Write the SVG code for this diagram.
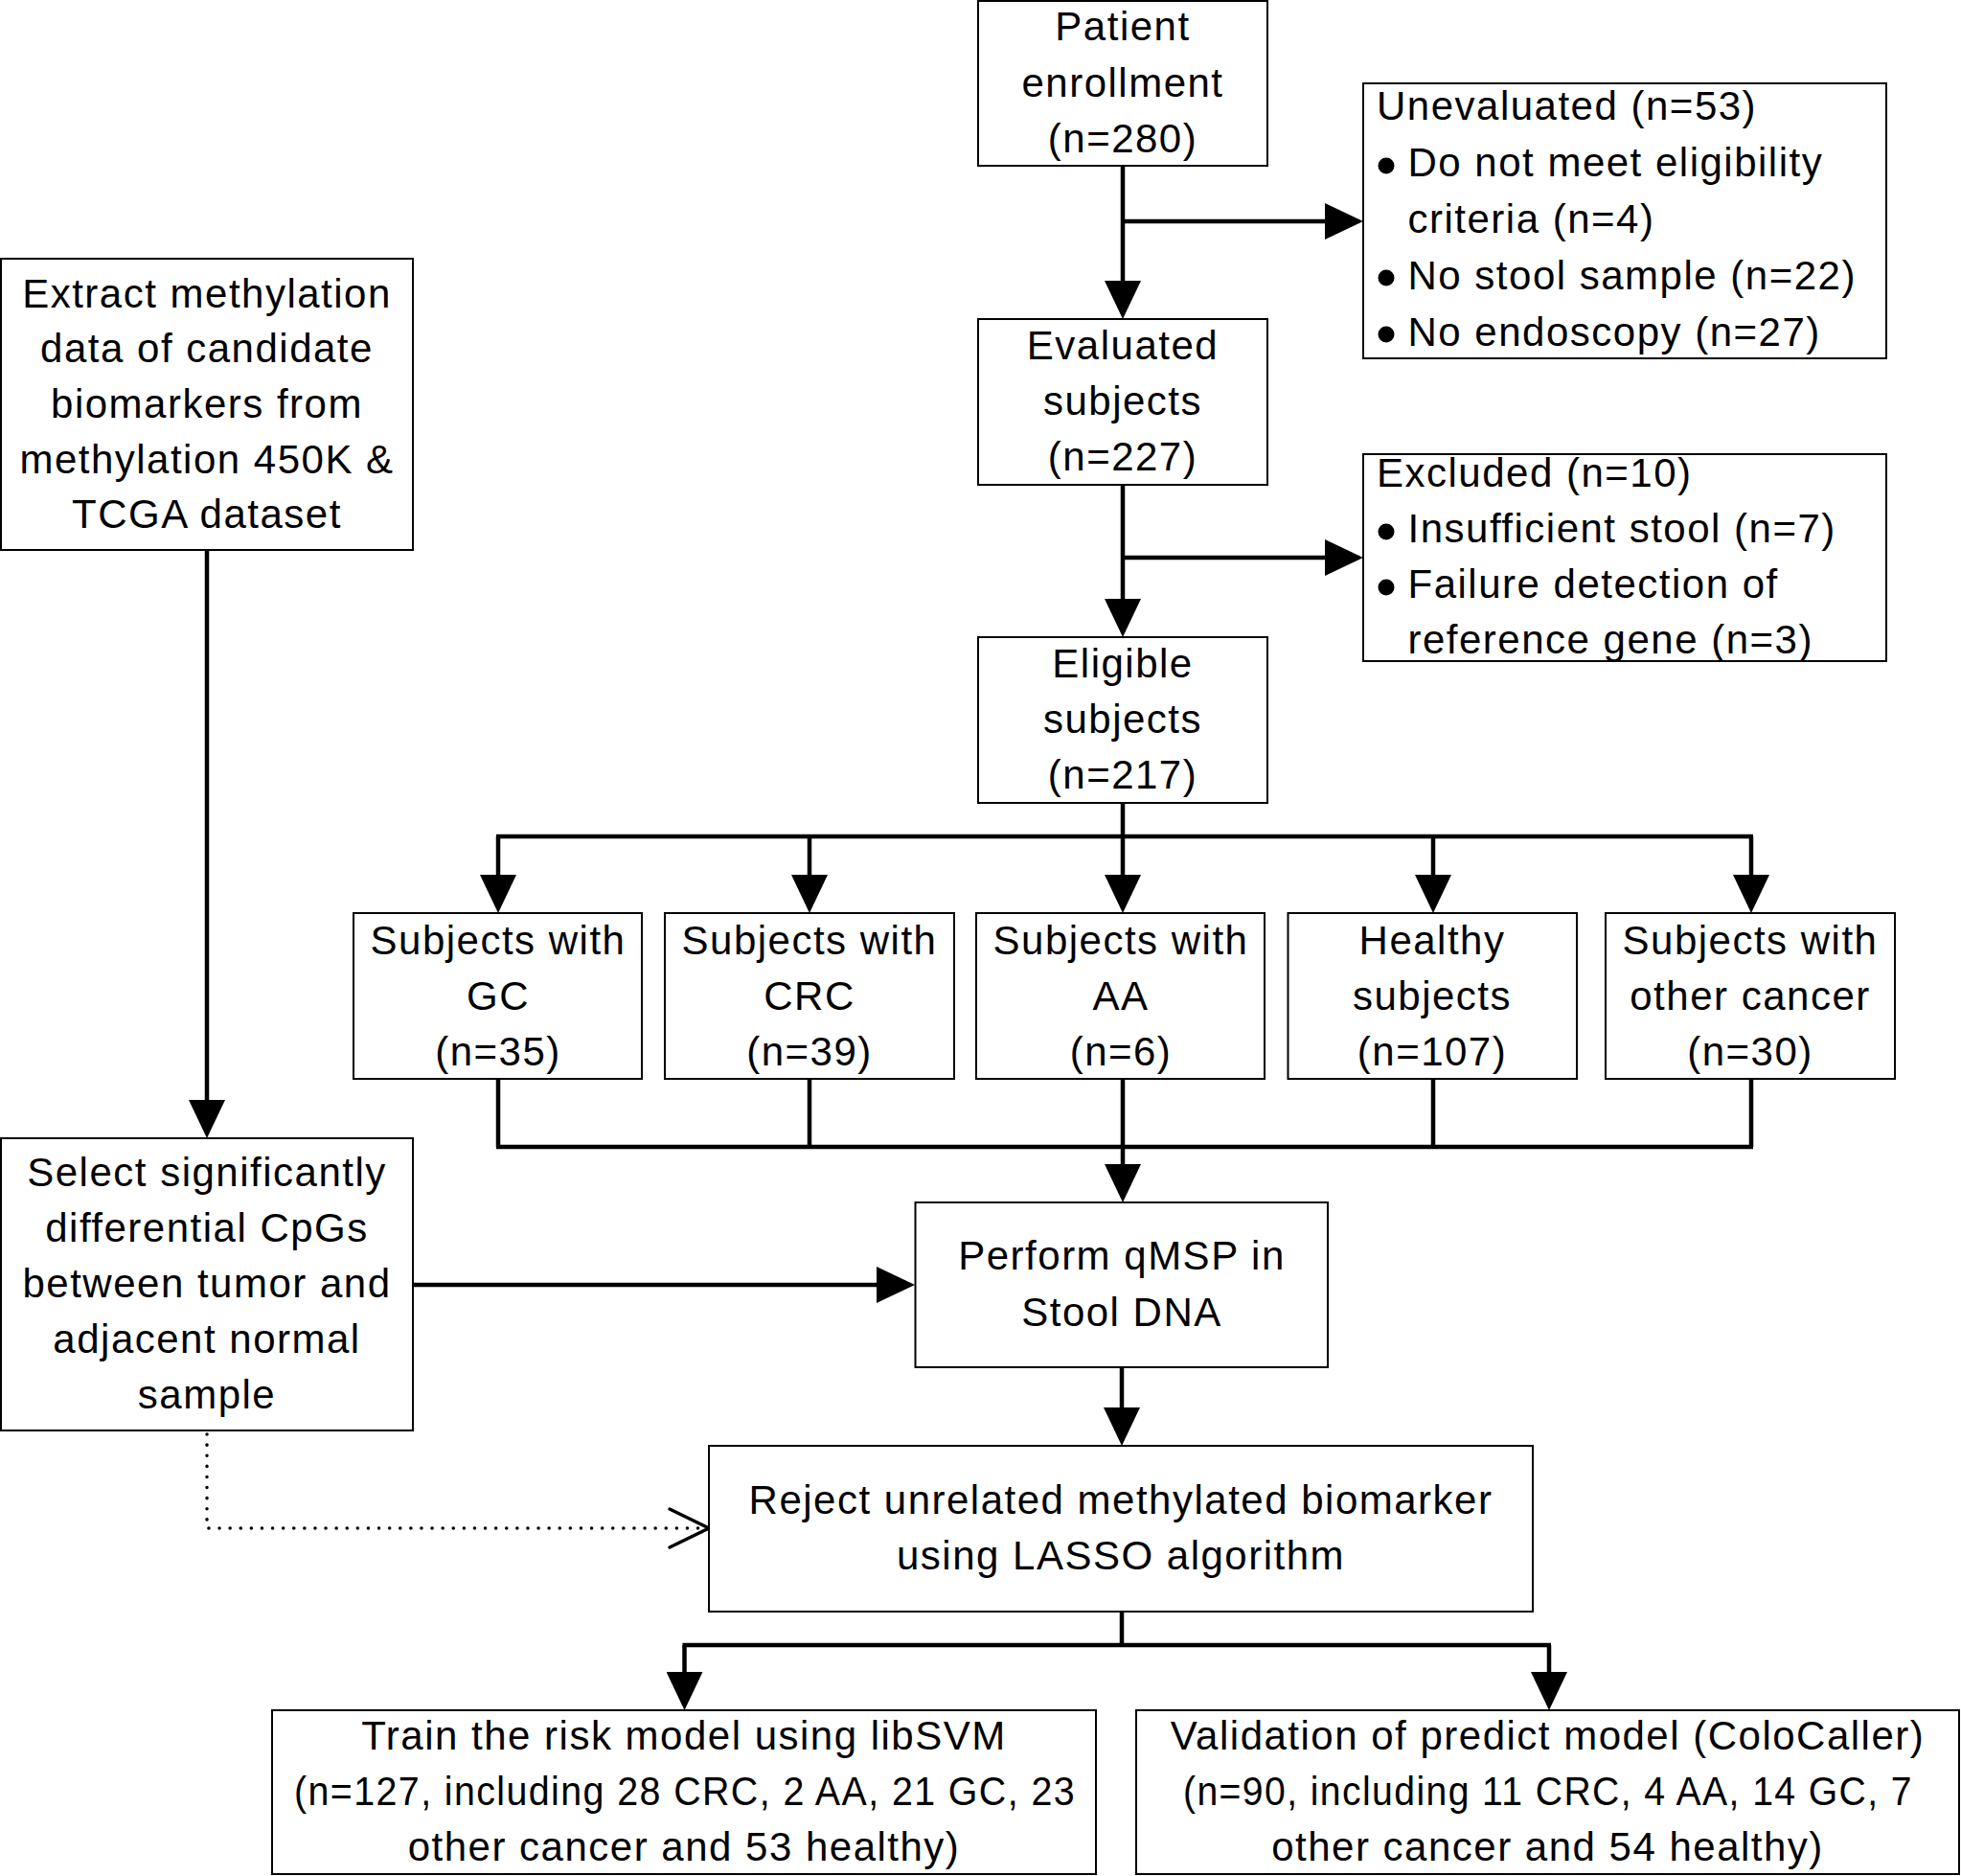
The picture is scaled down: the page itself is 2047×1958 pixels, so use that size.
<svg xmlns="http://www.w3.org/2000/svg" width="2047" height="1958" viewBox="0 0 2047 1958">
<style>
.box{fill:#fff;stroke:#000;stroke-width:2}
.t{font-family:"Liberation Sans",Arial,sans-serif;font-size:42px;letter-spacing:1.5px;fill:#000}
.c{text-anchor:middle}
.ln{stroke:#000;stroke-width:4.5;fill:none}
.dot{stroke:#000;stroke-width:3.5;fill:none;stroke-dasharray:0.1 11;stroke-linecap:round}
</style>
<defs>
<marker id="arr" markerUnits="userSpaceOnUse" markerWidth="40" markerHeight="38" refX="20" refY="19" orient="auto">
<path d="M0,0 L40,19 L0,38 z" fill="#000"/>
</marker>
</defs>
<rect width="2047" height="1958" fill="#fff"/>

<g id="connectors">
<line class="ln" x1="1172" y1="173" x2="1172" y2="313" marker-end="url(#arr)"/>
<line class="ln" x1="1172" y1="231" x2="1403" y2="231" marker-end="url(#arr)"/>
<line class="ln" x1="1172" y1="506" x2="1172" y2="645" marker-end="url(#arr)"/>
<line class="ln" x1="1172" y1="582" x2="1403" y2="582" marker-end="url(#arr)"/>
<line class="ln" x1="1172" y1="838" x2="1172" y2="873"/>
<line class="ln" x1="518" y1="873" x2="1830" y2="873"/>
<line class="ln" x1="520" y1="873" x2="520" y2="933" marker-end="url(#arr)"/>
<line class="ln" x1="845" y1="873" x2="845" y2="933" marker-end="url(#arr)"/>
<line class="ln" x1="1172" y1="873" x2="1172" y2="933" marker-end="url(#arr)"/>
<line class="ln" x1="1496" y1="873" x2="1496" y2="933" marker-end="url(#arr)"/>
<line class="ln" x1="1828" y1="873" x2="1828" y2="933" marker-end="url(#arr)"/>
<path class="ln" d="M520,1126 V1197 M845,1126 V1197 M1172,1126 V1197 M1496,1126 V1197 M1828,1126 V1197 M518,1197 H1830"/>
<line class="ln" x1="1172" y1="1197" x2="1172" y2="1235" marker-end="url(#arr)"/>
<line class="ln" x1="216" y1="574" x2="216" y2="1168" marker-end="url(#arr)"/>
<line class="ln" x1="431" y1="1341" x2="935" y2="1341" marker-end="url(#arr)"/>
<line class="ln" x1="1171" y1="1427" x2="1171" y2="1489" marker-end="url(#arr)"/>
<line class="ln" x1="1171" y1="1682" x2="1171" y2="1717"/>
<line class="ln" x1="712.5" y1="1717" x2="1619" y2="1717"/>
<line class="ln" x1="714.5" y1="1717" x2="714.5" y2="1765" marker-end="url(#arr)"/>
<line class="ln" x1="1617" y1="1717" x2="1617" y2="1765" marker-end="url(#arr)"/>
<path class="dot" d="M216,1497 V1595 H736"/>
<polyline points="699,1575 740,1595 699,1615" fill="none" stroke="#000" stroke-width="3.5" stroke-linecap="round" stroke-linejoin="miter"/>
</g>

<g id="patient">
<rect class="box" x="1021" y="1" width="302" height="172"/>
<text class="t c" x="1172" y="42">Patient</text>
<text class="t c" x="1172" y="101">enrollment</text>
<text class="t c" x="1172" y="159">(n=280)</text>
</g>

<g id="unevaluated">
<rect class="box" x="1423" y="87" width="546" height="287"/>
<text class="t" x="1437" y="125">Unevaluated (n=53)</text>
<circle cx="1447" cy="173" r="8.5"/>
<text class="t" x="1469.5" y="184">Do not meet eligibility</text>
<text class="t" x="1469.5" y="243">criteria (n=4)</text>
<circle cx="1447" cy="290" r="8.5"/>
<text class="t" x="1469.5" y="302">No stool sample (n=22)</text>
<circle cx="1447" cy="349" r="8.5"/>
<text class="t" x="1469.5" y="361">No endoscopy (n=27)</text>
</g>

<g id="evaluated">
<rect class="box" x="1021" y="333" width="302" height="173"/>
<text class="t c" x="1172" y="375">Evaluated</text>
<text class="t c" x="1172" y="433">subjects</text>
<text class="t c" x="1172" y="491">(n=227)</text>
</g>

<g id="excluded">
<rect class="box" x="1423" y="474" width="546" height="216"/>
<text class="t" x="1437" y="508">Excluded (n=10)</text>
<circle cx="1447" cy="555" r="8.5"/>
<text class="t" x="1469.5" y="566">Insufficient stool (n=7)</text>
<circle cx="1447" cy="613" r="8.5"/>
<text class="t" x="1469.5" y="624">Failure detection of</text>
<text class="t" x="1469.5" y="682">reference gene (n=3)</text>
</g>

<g id="eligible">
<rect class="box" x="1021" y="665" width="302" height="173"/>
<text class="t c" x="1172" y="707">Eligible</text>
<text class="t c" x="1172" y="765">subjects</text>
<text class="t c" x="1172" y="823">(n=217)</text>
</g>

<g id="extract">
<rect class="box" x="1" y="270" width="430" height="304"/>
<text class="t c" x="216" y="321">Extract methylation</text>
<text class="t c" x="216" y="378">data of candidate</text>
<text class="t c" x="216" y="436">biomarkers from</text>
<text class="t c" x="216" y="494">methylation 450K &amp;</text>
<text class="t c" x="216" y="551">TCGA dataset</text>
</g>

<g id="select">
<rect class="box" x="1" y="1188" width="430" height="305"/>
<text class="t c" x="216" y="1238">Select significantly</text>
<text class="t c" x="216" y="1296">differential CpGs</text>
<text class="t c" x="216" y="1354">between tumor and</text>
<text class="t c" x="216" y="1412">adjacent normal</text>
<text class="t c" x="216" y="1470">sample</text>
</g>

<g id="gc">
<rect class="box" x="369" y="953" width="301" height="173"/>
<text class="t c" x="520" y="996">Subjects with</text>
<text class="t c" x="520" y="1054">GC</text>
<text class="t c" x="520" y="1112">(n=35)</text>
</g>

<g id="crc">
<rect class="box" x="694" y="953" width="302" height="173"/>
<text class="t c" x="845" y="996">Subjects with</text>
<text class="t c" x="845" y="1054">CRC</text>
<text class="t c" x="845" y="1112">(n=39)</text>
</g>

<g id="aa">
<rect class="box" x="1019" y="953" width="301" height="173"/>
<text class="t c" x="1170" y="996">Subjects with</text>
<text class="t c" x="1170" y="1054">AA</text>
<text class="t c" x="1170" y="1112">(n=6)</text>
</g>

<g id="healthy">
<rect class="box" x="1344.5" y="953" width="301.5" height="173"/>
<text class="t c" x="1495" y="996">Healthy</text>
<text class="t c" x="1495" y="1054">subjects</text>
<text class="t c" x="1495" y="1112">(n=107)</text>
</g>

<g id="other">
<rect class="box" x="1676" y="953" width="302" height="173"/>
<text class="t c" x="1827" y="996">Subjects with</text>
<text class="t c" x="1827" y="1054">other cancer</text>
<text class="t c" x="1827" y="1112">(n=30)</text>
</g>

<g id="qmsp">
<rect class="box" x="955.5" y="1255" width="430.5" height="172"/>
<text class="t c" x="1171" y="1325">Perform qMSP in</text>
<text class="t c" x="1171" y="1384">Stool DNA</text>
</g>

<g id="lasso">
<rect class="box" x="740" y="1509" width="860" height="173"/>
<text class="t c" x="1170" y="1580">Reject unrelated methylated biomarker</text>
<text class="t c" x="1170" y="1638">using LASSO algorithm</text>
</g>

<g id="train">
<rect class="box" x="284" y="1785" width="860" height="171"/>
<text class="t c" x="714" y="1826">Train the risk model using libSVM</text>
<text class="t c" x="715" y="1884" textLength="816" lengthAdjust="spacingAndGlyphs">(n=127, including 28 CRC, 2 AA, 21 GC, 23</text>
<text class="t c" x="714" y="1942">other cancer and 53 healthy)</text>
</g>

<g id="validation">
<rect class="box" x="1186" y="1785" width="859" height="171"/>
<text class="t c" x="1615.5" y="1826">Validation of predict model (ColoCaller)</text>
<text class="t c" x="1616" y="1884" textLength="762" lengthAdjust="spacingAndGlyphs">(n=90, including 11 CRC, 4 AA, 14 GC, 7</text>
<text class="t c" x="1615.5" y="1942">other cancer and 54 healthy)</text>
</g>
</svg>
